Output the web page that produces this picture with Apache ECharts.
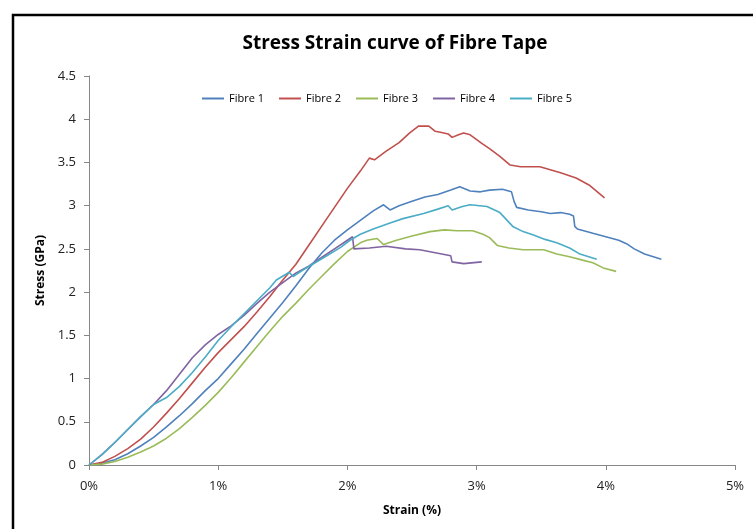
<!DOCTYPE html>
<html>
<head>
<meta charset="utf-8">
<script src="https://cdn.jsdelivr.net/npm/echarts@6/dist/echarts.min.js"></script>
<style>
  html, body { margin: 0; padding: 0; background: #fff; }
  #chart { width: 753px; height: 529px; }
</style>
</head>
<body>
<div id="chart"></div>
<script>
// strain (%) , stress (GPa) pairs
var fibre1 = [[0,0],[0.1,0.02],[0.2,0.06],[0.3,0.13],[0.4,0.22],[0.5,0.32],[0.6,0.44],[0.7,0.57],[0.8,0.71],[0.9,0.86],[1.0,1.0],
  [1.1,1.17],[1.2,1.34],[1.3,1.52],[1.4,1.7],[1.5,1.88],[1.6,2.07],[1.7,2.27],[1.8,2.45],[1.9,2.6],[2.0,2.72],[2.1,2.83],
  [2.2,2.94],[2.28,3.01],[2.33,2.95],[2.4,3.0],[2.5,3.05],[2.6,3.1],[2.7,3.13],[2.8,3.18],[2.87,3.22],[2.95,3.17],[3.03,3.16],
  [3.1,3.18],[3.2,3.19],[3.27,3.16],[3.29,3.05],[3.31,2.98],[3.4,2.95],[3.5,2.93],[3.57,2.91],[3.65,2.92],[3.72,2.9],[3.75,2.88],
  [3.76,2.76],[3.78,2.73],[3.9,2.68],[4.0,2.64],[4.1,2.6],[4.16,2.56],[4.22,2.5],[4.3,2.44],[4.43,2.38]];
var fibre2 = [[0,0],[0.1,0.03],[0.2,0.1],[0.3,0.19],[0.4,0.3],[0.5,0.44],[0.6,0.6],[0.7,0.77],[0.8,0.95],[0.9,1.13],[1.0,1.3],
  [1.1,1.45],[1.2,1.6],[1.3,1.77],[1.4,1.95],[1.5,2.14],[1.6,2.32],[1.7,2.54],[1.8,2.76],[1.9,2.98],[2.0,3.2],[2.1,3.4],
  [2.17,3.55],[2.21,3.53],[2.3,3.63],[2.4,3.73],[2.48,3.84],[2.55,3.92],[2.63,3.92],[2.68,3.86],[2.72,3.85],[2.78,3.83],
  [2.81,3.79],[2.86,3.82],[2.9,3.84],[2.95,3.82],[3.04,3.72],[3.1,3.66],[3.18,3.57],[3.26,3.47],[3.34,3.45],[3.49,3.45],
  [3.65,3.38],[3.77,3.32],[3.87,3.24],[3.99,3.09]];
var fibre3 = [[0,0],[0.1,0.01],[0.2,0.04],[0.3,0.09],[0.4,0.15],[0.5,0.22],[0.6,0.31],[0.7,0.42],[0.8,0.55],[0.9,0.69],[1.0,0.84],
  [1.1,1.01],[1.2,1.19],[1.3,1.37],[1.4,1.55],[1.5,1.72],[1.6,1.87],[1.7,2.03],[1.8,2.18],[1.9,2.33],[2.0,2.47],[2.1,2.57],
  [2.15,2.6],[2.23,2.62],[2.28,2.55],[2.38,2.6],[2.5,2.65],[2.64,2.7],[2.75,2.72],[2.85,2.71],[2.97,2.71],[3.05,2.67],
  [3.1,2.63],[3.16,2.54],[3.25,2.51],[3.36,2.49],[3.52,2.49],[3.62,2.44],[3.72,2.41],[3.82,2.37],[3.9,2.34],[3.98,2.28],[4.08,2.24]];
var fibre4 = [[0,0],[0.1,0.12],[0.2,0.26],[0.3,0.41],[0.4,0.56],[0.5,0.7],[0.6,0.86],[0.7,1.05],[0.8,1.24],[0.9,1.39],[1.0,1.51],
  [1.1,1.61],[1.2,1.73],[1.3,1.87],[1.4,2.0],[1.5,2.11],[1.6,2.22],[1.7,2.3],[1.8,2.4],[1.9,2.5],[2.0,2.6],[2.04,2.64],
  [2.05,2.5],[2.06,2.48],[2.17,2.51],[2.3,2.53],[2.45,2.5],[2.56,2.49],[2.7,2.45],[2.77,2.43],[2.8,2.42],[2.81,2.35],
  [2.9,2.33],[3.04,2.35]];
var fibre5 = [[0,0],[0.1,0.12],[0.2,0.26],[0.3,0.41],[0.4,0.56],[0.5,0.7],[0.55,0.74],[0.6,0.78],[0.7,0.91],[0.8,1.07],[0.9,1.25],
  [1.0,1.44],[1.1,1.6],[1.2,1.75],[1.3,1.9],[1.4,2.05],[1.45,2.14],[1.55,2.23],[1.58,2.18],[1.65,2.25],[1.75,2.34],[1.85,2.43],
  [1.95,2.52],[2.02,2.6],[2.1,2.67],[2.2,2.73],[2.33,2.8],[2.43,2.85],[2.59,2.91],[2.7,2.96],[2.78,3.0],[2.81,2.95],[2.89,2.99],
  [2.95,3.01],[3.08,2.99],[3.18,2.92],[3.28,2.76],[3.36,2.7],[3.44,2.66],[3.53,2.61],[3.62,2.57],[3.72,2.51],[3.8,2.44],[3.93,2.38]];

var names = ['Fibre 1', 'Fibre 2', 'Fibre 3', 'Fibre 4', 'Fibre 5'];
var colors = ['#4F81BD', '#C0504D', '#9BBB59', '#8064A2', '#4BACC6'];
var allData = [fibre1, fibre2, fibre3, fibre4, fibre5];

var font = '"Open Sans", Lato, sans-serif';
var chart = echarts.init(document.getElementById('chart'));

var series = [];
for (var i = 0; i < names.length; i++) {
  series.push({
    name: names[i],
    type: 'line',
    data: allData[i],
    showSymbol: false,
    lineStyle: { width: 1.6, color: colors[i] },
    itemStyle: { color: colors[i] }
  });
}

chart.setOption({
  animation: false,
  textStyle: { fontFamily: font },
  title: {
    text: 'Stress Strain curve of Fibre Tape',
    left: 390, top: 29, textAlign: 'center',
    textStyle: { fontFamily: font, fontSize: 19, fontWeight: 'bold', color: '#000' }
  },
  legend: {
    data: names,
    top: 88, left: 197,
    icon: 'rect', itemWidth: 22, itemHeight: 2, itemGap: 15,
    textStyle: { fontFamily: font, fontSize: 11, color: '#000' }
  },
  grid: { left: 89, right: 18, top: 76, bottom: 64 },
  xAxis: {
    type: 'value', min: 0, max: 5, interval: 1,
    name: 'Strain (%)', nameLocation: 'middle', nameGap: 40,
    nameTextStyle: { fontFamily: font, fontSize: 12, fontWeight: 'bold', color: '#000' },
    axisLine: { lineStyle: { color: '#868686' } },
    axisTick: { show: true, length: 5, lineStyle: { color: '#868686' } },
    axisLabel: { formatter: '{value}%', fontSize: 13, color: '#222', margin: 15 },
    splitLine: { show: false }
  },
  yAxis: {
    type: 'value', min: 0, max: 4.5, interval: 0.5,
    name: 'Stress (GPa)', nameLocation: 'middle', nameGap: 42, nameRotate: 90,
    nameTextStyle: { fontFamily: font, fontSize: 12, fontWeight: 'bold', color: '#000' },
    axisLine: { show: true, lineStyle: { color: '#868686' } },
    axisTick: { show: true, length: 5, lineStyle: { color: '#868686' } },
    axisLabel: { fontSize: 13, color: '#222', margin: 13 },
    splitLine: { show: false }
  },
  graphic: [
    { type: 'rect', shape: { x: 13, y: 15, width: 760, height: 540 },
      style: { fill: 'none', stroke: '#000', lineWidth: 2.5 } }
  ],
  series: series
});
</script>
</body>
</html>
